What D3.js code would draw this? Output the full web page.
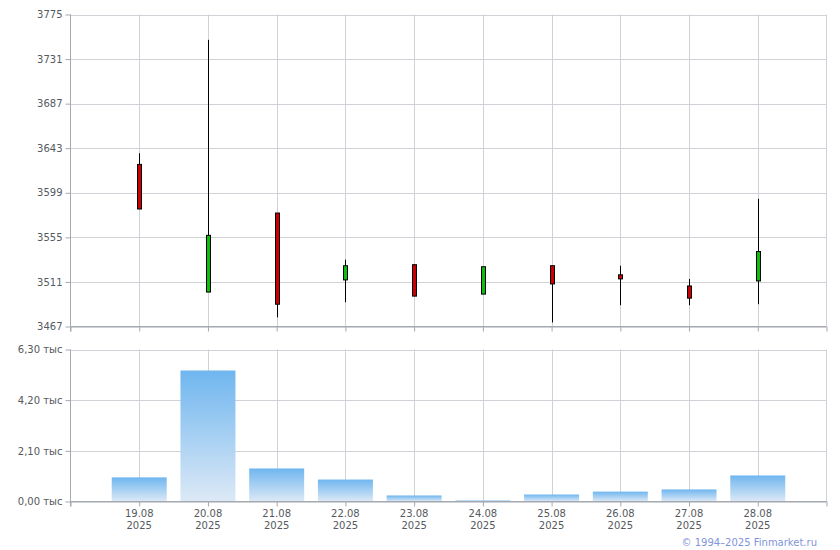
<!DOCTYPE html>
<html><head><meta charset="utf-8">
<script src="https://cdn.jsdelivr.net/npm/d3@7"></script>
<style>
html,body{margin:0;padding:0;background:#fff;}
svg text{font-family:"DejaVu Sans",Verdana,sans-serif;}
</style></head>
<body><svg id="c" width="840" height="550"></svg>
<script>
const dates = ["19.08","20.08","21.08","22.08","23.08","24.08","25.08","26.08","27.08","28.08"];
const years = ["2025","2025","2025","2025","2025","2025","2025","2025","2025","2025"];
const open  = [3627,3501,3579,3513,3528,3499,3527,3518,3507,3512];
const high  = [3638,3750,3579,3533,3528,3526,3527,3527,3514,3593];
const low   = [3583,3501,3476,3491,3497,3499,3471,3488,3488,3489];
const close = [3583,3557,3489,3527,3497,3526,3509,3514,3495,3541];
const volume = [1.00,5.43,1.37,0.91,0.25,0.04,0.29,0.41,0.50,1.08]; // тыс
const priceTicks = [3467,3511,3555,3599,3643,3687,3731,3775];
const volTicks = [0,2.1,4.2,6.3];

const svg = d3.select("#c");
const L = 70.5, R = 826.5;
const x = d3.scaleLinear().domain([-1,10]).range([L,R]);
const yP = d3.scaleLinear().domain([3467,3775]).range([326.5,14.5]);
const yV = d3.scaleLinear().domain([0,6.3]).range([501.5,349.5]);
const gridC = "#cfd3d8", axisC = "#a6a9b0", textC = "#555a60";
const idx = d3.range(dates.length);

// gradient
const defs = svg.append("defs");
const gr = defs.append("linearGradient").attr("id","vg").attr("x1",0).attr("y1",0).attr("x2",0).attr("y2",1);
gr.append("stop").attr("offset","0%").attr("stop-color","#6fb6ef");
gr.append("stop").attr("offset","100%").attr("stop-color","#dde9f6");

function panel(y, ticks, fmt, top, bottom){
  const g = svg.append("g");
  // horizontal grid
  g.selectAll(".hg").data(ticks).enter().append("line")
    .attr("x1",L).attr("x2",R).attr("y1",d=>Math.round(y(d))+0.5).attr("y2",d=>Math.round(y(d))+0.5)
    .attr("stroke",gridC);
  // vertical grid
  g.selectAll(".vg").data(idx).enter().append("line")
    .attr("x1",d=>Math.round(x(d))+0.5).attr("x2",d=>Math.round(x(d))+0.5).attr("y1",top).attr("y2",bottom)
    .attr("stroke",gridC);
  g.append("line").attr("x1",R).attr("x2",R).attr("y1",top).attr("y2",bottom).attr("stroke",gridC);
  // bottom axis
  const xa = d3.axisBottom(x).tickValues(d3.range(-1,11)).tickSize(5).tickFormat("");
  const ga = svg.append("g").attr("transform",`translate(0,${bottom})`).call(xa);
  ga.select(".domain").attr("stroke",axisC).attr("d",`M${L},0H${R}`);
  ga.selectAll(".tick line").attr("stroke",axisC);
  // left axis
  const ya = d3.axisLeft(y).tickValues(ticks).tickSize(5).tickFormat(fmt).tickPadding(3);
  const gy = svg.append("g").attr("transform",`translate(${L},0)`).call(ya);
  gy.select(".domain").attr("stroke",axisC).attr("d",`M0,${top}V${bottom+5}`);
  gy.selectAll(".tick line").attr("stroke",axisC);
  gy.selectAll(".tick text").attr("fill",textC).attr("font-size","10px").attr("font-family","DejaVu Sans");
  return ga;
}

panel(yP, priceTicks, d=>d, 14.5, 326.5);
const gb = panel(yV, volTicks, d=>d3.format(".2f")(d).replace(".",",")+" тыс", 349.5, 501.5);

// candles
const cg = svg.append("g");
idx.forEach(i=>{
  const cx = Math.round(x(i))+0.5;
  cg.append("line").attr("x1",cx).attr("x2",cx).attr("y1",yP(high[i])).attr("y2",yP(low[i])).attr("stroke","#000");
  const t = yP(Math.max(open[i],close[i])), b = yP(Math.min(open[i],close[i]));
  cg.append("rect").attr("x",cx-2).attr("width",4).attr("y",t).attr("height",Math.max(b-t,2))
    .attr("fill", close[i]>=open[i] ? "#0bbf0b" : "#cc0000").attr("stroke","#000").attr("stroke-width",1);
});

// volume bars
const bw = (x(1)-x(0))*0.8;
svg.append("g").selectAll("rect").data(idx).enter().append("rect")
  .attr("x",i=>x(i)-bw/2).attr("width",bw)
  .attr("y",i=>yV(volume[i])).attr("height",i=>yV(0)-yV(volume[i]))
  .attr("fill","url(#vg)");
// redraw bottom axis line over bars
svg.append("line").attr("x1",L).attr("x2",R).attr("y1",501.5).attr("y2",501.5).attr("stroke",axisC);

// x labels
const lg = svg.append("g").attr("font-size","10px").attr("fill",textC).attr("text-anchor","middle");
idx.forEach(i=>{
  lg.append("text").attr("x",x(i)).attr("y",517).text(dates[i]);
  lg.append("text").attr("x",x(i)).attr("y",529).text(years[i]);
});

svg.append("text").attr("x",817).attr("y",546).attr("text-anchor","end")
  .attr("font-size","10px").attr("fill","#7f94dc").text("© 1994–2025 Finmarket.ru");
</script></body></html>
